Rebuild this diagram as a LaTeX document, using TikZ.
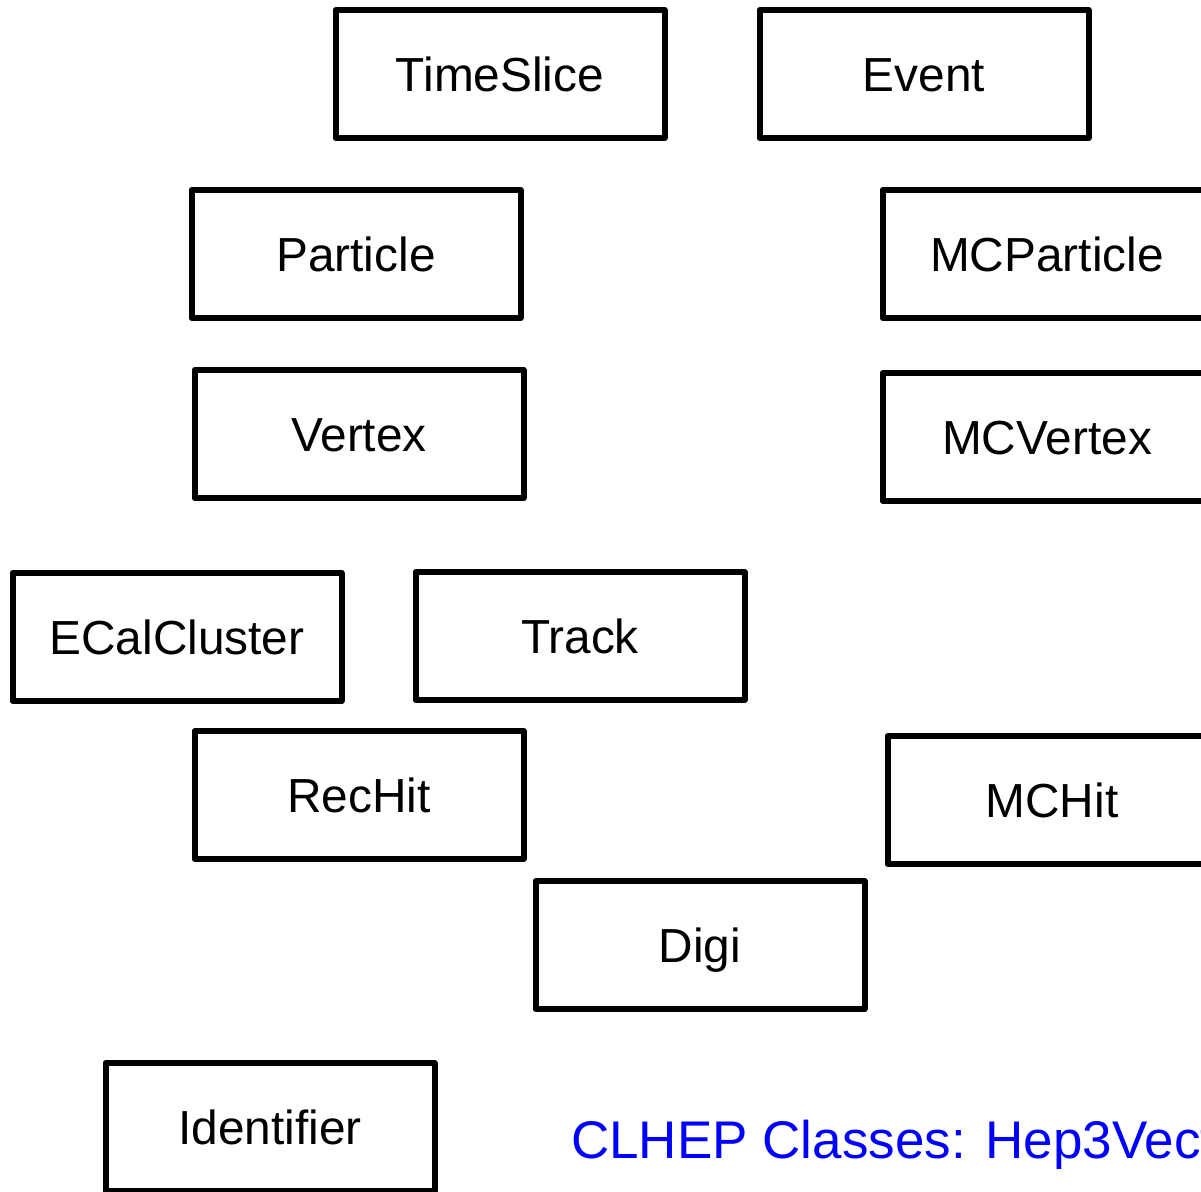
\documentclass[tikz,border=0pt]{standalone}
\usepackage{fontspec}
\setmainfont{Liberation Sans}
\begin{document}
\begin{tikzpicture}[x=1pt,y=-1pt,
  cls/.style={draw=black,line width=6pt,line join=round,fill=white,
    minimum width=329pt,minimum height=128pt,inner sep=0pt,
    font=\fontsize{47.8}{57}\selectfont,text height=34.3pt,text depth=0pt},
  note/.style={anchor=base west,inner sep=0pt,text=notecol,
    font=\fontsize{53}{63}\selectfont}]
\definecolor{notecol}{RGB}{0,0,255}
\useasboundingbox (0,0) rectangle (1201,1191);
\clip (0,0) rectangle (1201,1191);
\fill[white] (0,0) rectangle (1201,1191);
\node[cls] (timeslice) at (500,74) {TimeSlice};
\node[cls] (event) at (924,74) {Event};
\node[cls] (particle) at (356,254) {Particle};
\node[cls] (mcparticle) at (1047,254) {MCParticle};
\node[cls] (vertex) at (359,434) {Vertex};
\node[cls] (mcvertex) at (1047,437) {MCVertex};
\node[cls] (ecal) at (177,637) {ECalCluster};
\node[cls] (track) at (580,636) {Track};
\node[cls] (rechit) at (359,795) {RecHit};
\node[cls] (mchit) at (1052,800) {MCHit};
\node[cls] (digi) at (700,945) {Digi};
\node[cls] (identifier) at (270,1127) {Identifier};
\node[note] (clhep) at (571,1158) {CLHEP Classes: Hep3Vector};
\end{tikzpicture}
\end{document}
